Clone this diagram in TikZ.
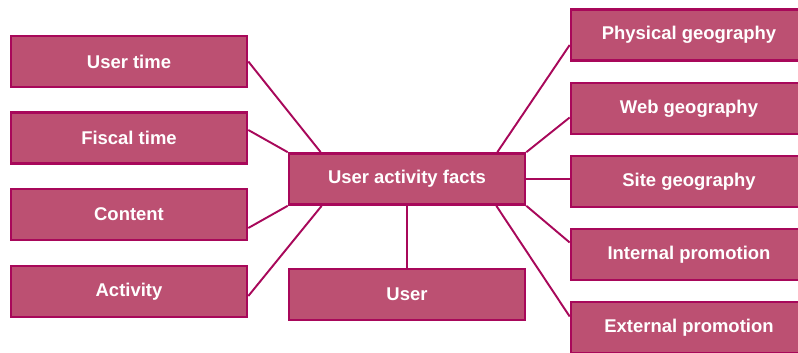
\documentclass[tikz,border=0pt]{standalone}
\usepackage{fontspec}
\setmainfont{Liberation Sans}
\usetikzlibrary{calc}
\definecolor{boxfill}{RGB}{188,80,114}
\definecolor{boxline}{RGB}{168,8,90}

\begin{document}
\begin{tikzpicture}[
    dim/.style={draw=boxline, fill=boxfill, line width=1.5pt, minimum width=4.72cm,
                minimum height=1.02cm, inner sep=0pt, text=white,
                font=\fontsize{10.5}{12}\selectfont\bfseries},
    link/.style={draw=boxline, line width=1.1pt}]

\useasboundingbox (0,0) rectangle (15.96,7.04);

% left dimensions
\node [dim] (usertime) at (2.58, 5.81) {User time};
\node [dim] (fiscal)   at (2.58, 4.28) {Fiscal time};
\node [dim] (content)  at (2.58, 2.75) {Content};
\node [dim] (activity) at (2.58, 1.21) {Activity};

% fact table
\node [dim] (facts) at (8.14, 3.46) {User activity facts};
\node [dim] (user)  at (8.14, 1.15) {User};

% right dimensions
\node [dim] (physgeo)  at (13.78, 6.34) {Physical geography};
\node [dim] (webgeo)   at (13.78, 4.87) {Web geography};
\node [dim] (sitegeo)  at (13.78, 3.41) {Site geography};
\node [dim] (intpromo) at (13.78, 1.95) {Internal promotion};
\node [dim] (extpromo) at (13.78, 0.49) {External promotion};

% -------- links -----------
\draw [link] (usertime.east) -- ($(facts.north west)+(0.66,0)$);
\draw [link] ($(fiscal.east)+(0,0.16)$) -- (facts.north west);
\draw [link] ($(content.east)+(0,-0.27)$) -- (facts.south west);
\draw [link] ($(activity.east)+(0,-0.09)$) -- ($(facts.south west)+(0.68,0)$);
\draw [link] (facts.south) -- (user.north);

\draw [link] ($(facts.north east)+(-0.58,0)$) -- ($(physgeo.west)+(0,-0.2)$);
\draw [link] (facts.north east) -- ($(webgeo.west)+(0,-0.18)$);
\draw [link] (facts.east) -- (facts.east -| sitegeo.west);
\draw [link] (facts.south east) -- ($(intpromo.west)+(0,0.24)$);
\draw [link] ($(facts.south east)+(-0.6,0)$) -- ($(extpromo.west)+(0,0.22)$);

\end{tikzpicture}
\end{document}
